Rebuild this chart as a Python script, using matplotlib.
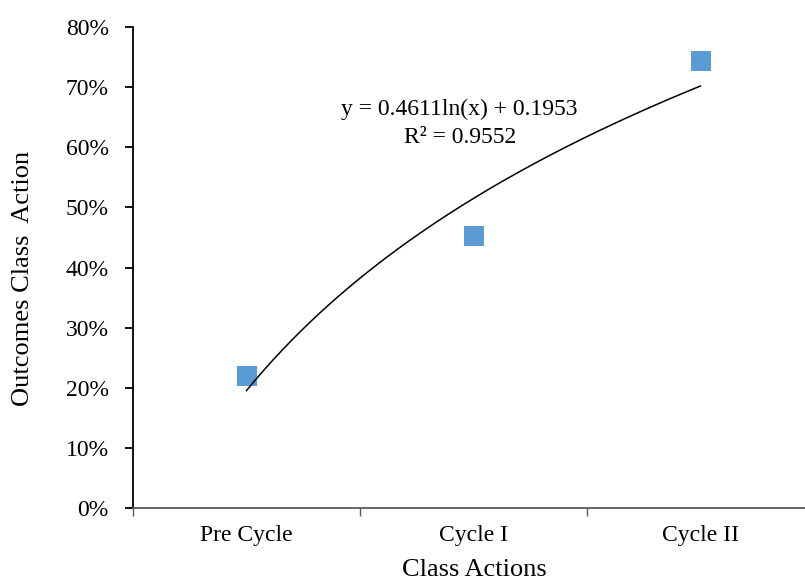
import matplotlib

matplotlib.use("Agg")
import matplotlib.pyplot as plt
import numpy as np
from matplotlib.ticker import PercentFormatter

# data
categories = ["Pre Cycle", "Cycle I", "Cycle II"]
outcomes = [0.22, 0.452, 0.743]
y_ticks = [0.0, 0.1, 0.2, 0.3, 0.4, 0.5, 0.6, 0.7, 0.8]
fit_a = 0.4611
fit_b = 0.1953
equation_line = "y = 0.4611ln(x) + 0.1953"
r2_line = "R² = 0.9552"

plt.rcParams["font.family"] = ["Liberation Serif", "DejaVu Serif"]

W, H = 805, 583
fig = plt.figure(figsize=(W / 100, H / 100), dpi=100)
ax = fig.add_axes([133 / W, 75 / H, 681 / W, 481 / H])

x = np.arange(1, len(categories) + 1)
ax.scatter(x, outcomes, marker="s", s=190, color="#5B9BD5", zorder=2, linewidths=0)

# logarithmic trendline, as Excel draws it
xs = np.linspace(1, len(categories), 200)
ax.plot(xs, fit_a * np.log(xs) + fit_b, color="black", lw=1.1, zorder=3)

ax.text(1.936, 0.6536, equation_line, ha="center", va="baseline", fontsize=17)
ax.text(1.94, 0.607, r2_line, ha="center", va="baseline", fontsize=17)

ax.set_xlim(0.5, len(categories) + 0.5)
ax.set_ylim(0, 0.8)
ax.set_yticks(y_ticks)
ax.yaxis.set_major_formatter(PercentFormatter(1.0, decimals=0))
ax.set_xticks(x)
ax.set_xticklabels(categories)
ax.set_xticks(np.arange(0.5, len(categories) + 1, 1.0), minor=True)
ax.tick_params(axis="x", which="major", length=0, pad=12, labelsize=17)
ax.tick_params(axis="x", which="minor", length=6, width=1, color="#595959")
ax.tick_params(axis="y", length=6, width=1.3, pad=11.5, labelsize=17)

for side in ("top", "right"):
    ax.spines[side].set_visible(False)
ax.spines["left"].set_linewidth(1.3)
ax.spines["bottom"].set_color("#595959")
ax.spines["bottom"].set_linewidth(1.3)

fig.text(474 / W, 1 - 576 / H, "Class Actions", ha="center", va="baseline", fontsize=19)
fig.text(23 / W, 1 - 278 / H, "Outcomes Class  Action", ha="center", va="center",
         rotation=90, fontsize=19)

fig.savefig("out.png", dpi=100)
